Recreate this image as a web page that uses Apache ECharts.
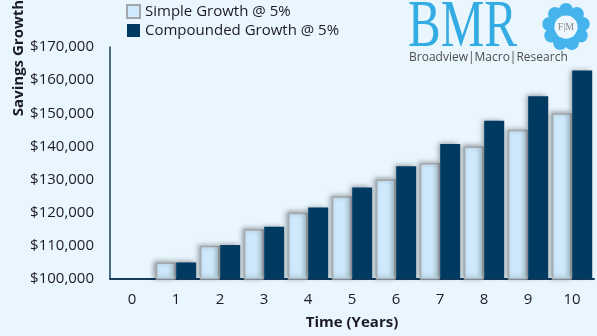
<!DOCTYPE html>
<html>
<head>
<meta charset="utf-8">
<script src="https://cdn.jsdelivr.net/npm/echarts@6/dist/echarts.min.js"></script>
<style>
  html, body { margin: 0; padding: 0; background: #eaf6fe; }
  #chart { width: 597px; height: 336px; }
</style>
</head>
<body>
<div id="chart"></div>
<script>
// Years on the horizontal axis
const years = ['0', '1', '2', '3', '4', '5', '6', '7', '8', '9', '10'];
// Savings balance, simple interest at 5% on $100,000
const simpleGrowth = [100000, 105000, 110000, 115000, 120000, 125000, 130000, 135000, 140000, 145000, 150000];
// Savings balance, compounded annually at 5% on $100,000
const compoundedGrowth = [100000, 105000, 110250, 115763, 121551, 127628, 134010, 140710, 147746, 155133, 162889];
// Vertical axis range
const yMin = 100000;
const yMax = 170000;
const yStep = 10000;

const FONT = '"Open Sans", "Noto Sans", sans-serif';
const TEXT = '#1c1a24';

const chart = echarts.init(document.getElementById('chart'), null, { renderer: 'canvas' });

// Bars sitting exactly on the axis floor have no height: drop their outline and shadow
const flatAware = values => values.map(v => v <= yMin
  ? { value: v, itemStyle: { borderWidth: 0, shadowBlur: 0, shadowOffsetX: 0, shadowOffsetY: 0, opacity: 0 } }
  : v);

// Ring emblem of the logo: small circles around a centre
const cx = 566, cy = 27;
const ring = [];
const nDots = 9;
for (let i = 0; i < nDots; i++) {
  const a = (i / nDots) * Math.PI * 2 - Math.PI / 2;
  ring.push({
    type: 'circle',
    shape: { cx: cx + Math.cos(a) * 17, cy: cy + Math.sin(a) * 17, r: 7 },
    style: { fill: '#45b4ec' },
    silent: true
  });
}
ring.push({ type: 'circle', shape: { cx: cx, cy: cy, r: 11.5 }, style: { fill: '#eef7fd' }, silent: true });
ring.push({
  type: 'text', x: cx, y: cy,
  style: { text: 'F|M', fill: '#8a8a8a', font: '10px "Liberation Serif", serif', align: 'center', verticalAlign: 'middle' },
  silent: true
});

chart.setOption({
  backgroundColor: '#eaf6fe',
  animation: false,
  textStyle: { fontFamily: FONT },
  grid: { left: 110, right: 3, top: 47, bottom: 57, containLabel: false, outerBoundsMode: 'none' },
  legend: {
    orient: 'vertical',
    left: 121,
    top: -1,
    icon: 'rect',
    itemWidth: 13,
    itemHeight: 13,
    itemGap: 4,
    textStyle: { fontFamily: FONT, fontSize: 15, color: TEXT },
    data: ['Simple Growth @ 5%', 'Compounded Growth @ 5%']
  },
  xAxis: {
    type: 'category',
    data: years,
    name: 'Time (Years)',
    nameLocation: 'middle',
    nameGap: 36,
    nameTextStyle: { fontFamily: FONT, fontSize: 15, fontWeight: 'bold', color: TEXT },
    axisLine: { lineStyle: { color: '#173c5e', width: 2 } },
    axisTick: { show: false },
    axisLabel: { fontFamily: FONT, fontSize: 15, color: TEXT, margin: 13 }
  },
  yAxis: {
    type: 'value',
    min: yMin,
    max: yMax,
    interval: yStep,
    axisLine: { show: true, lineStyle: { color: '#173c5e', width: 1.5 } },
    axisTick: { show: false },
    splitLine: { show: false },
    axisLabel: {
      fontFamily: FONT, fontSize: 15, color: TEXT, margin: 16,
      formatter: v => '$' + v.toLocaleString('en-US')
    }
  },
  series: [
    {
      name: 'Simple Growth @ 5%',
      type: 'bar',
      data: flatAware(simpleGrowth),
      barWidth: 20,
      barGap: '2%',
      itemStyle: {
        color: '#cde9fb',
        borderColor: '#a3a8ad',
        borderWidth: 1.5,
        shadowColor: 'rgba(0,0,0,0.35)',
        shadowBlur: 5,
        shadowOffsetX: -2,
        shadowOffsetY: -1
      }
    },
    {
      name: 'Compounded Growth @ 5%',
      type: 'bar',
      data: flatAware(compoundedGrowth),
      barWidth: 20,
      itemStyle: {
        color: '#003a60',
        shadowColor: 'rgba(0,0,0,0.35)',
        shadowBlur: 5,
        shadowOffsetX: -2,
        shadowOffsetY: -1
      }
    }
  ],
  graphic: [
    {
      // vertical axis title
      type: 'text',
      x: 19,
      y: 58,
      rotation: Math.PI / 2,
      style: {
        text: 'Savings Growth', fill: TEXT,
        font: 'bold 15px "Open Sans", sans-serif',
        align: 'center', verticalAlign: 'middle'
      },
      silent: true
    },
    {
      type: 'text',
      left: 408,
      top: -6,
      scaleX: 0.72,
      style: { text: 'BMR', fill: '#33abe3', font: '68px "Liberation Serif", "DejaVu Serif", serif' },
      silent: true
    },
    {
      type: 'text',
      left: 409,
      top: 52,
      style: { text: 'Broadview|Macro|Research', fill: '#4d4d4d', font: '12px "Open Sans", sans-serif' },
      silent: true
    }
  ].concat(ring)
});
</script>
</body>
</html>
